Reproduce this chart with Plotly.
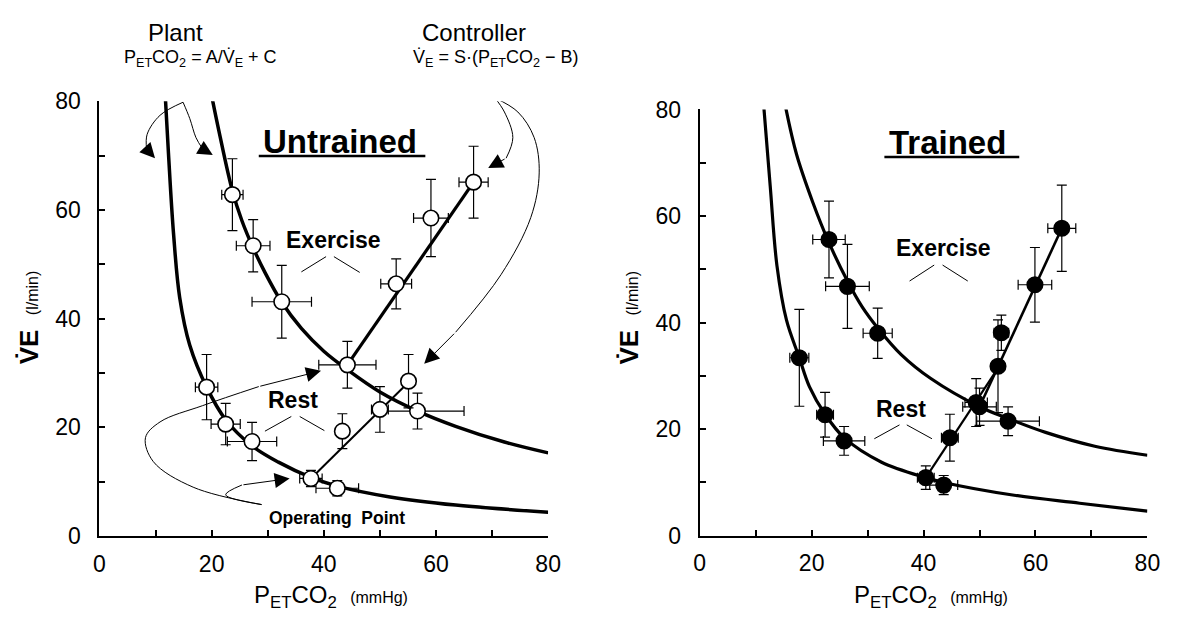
import plotly.graph_objects as go

# ---------------- data ----------------
# Untrained – plant (hyperbola) curves
U_ex_curve_x = [19.9, 21.3, 23.7, 25.4, 27.4, 29.5, 32.5, 36.0, 40.0, 44.2, 50.0, 56.7, 63.5, 72.2, 80.0]
U_ex_curve_y = [81.5, 74.5, 63.5, 58.0, 53.0, 48.5, 43.0, 38.2, 34.0, 30.6, 26.5, 23.0, 20.2, 17.3, 15.3]
U_rest_curve_x = [11.7, 12.3, 13.2, 14.3, 16.1, 19.1, 22.5, 27.2, 31.9, 37.7, 42.4, 51.8, 63.5, 80.0]
U_rest_curve_y = [81.5, 70.4, 55.7, 43.9, 35.1, 27.4, 21.4, 16.6, 13.6, 10.8, 9.2, 7.2, 5.7, 4.4]
# Untrained – controller lines (start, end)
U_ex_ctrl_line_x = [44.2, 66.7]
U_ex_ctrl_line_y = [31.5, 65.1]
U_rest_ctrl_line_x = [37.7, 55.1]
U_rest_ctrl_line_y = [10.6, 28.3]
# Untrained – measured points
U_ex_plant_x = [23.7, 27.4, 32.5, 44.2, 56.7]
U_ex_plant_y = [62.8, 53.4, 43.1, 31.5, 23.0]
U_ex_plant_xerr_p = [1.9, 3.0, 5.3, 5.1, 8.3]
U_ex_plant_xerr_m = [1.9, 3.0, 5.3, 5.1, 6.7]
U_ex_plant_yerr = [6.6, 4.8, 6.7, 4.3, 3.3]
U_ex_ctrl_x = [52.9, 59.1, 66.7]
U_ex_ctrl_y = [46.4, 58.5, 65.1]
U_ex_ctrl_xerr = [2.75, 3.1, 2.6]
U_ex_ctrl_yerr = [4.6, 7.1, 6.6]
U_rest_plant_x = [19.1, 22.5, 27.2, 37.7, 42.4]
U_rest_plant_y = [27.4, 20.6, 17.4, 10.6, 8.8]
U_rest_plant_xerr = [2.0, 2.6, 4.4, 2.0, 3.8]
U_rest_plant_yerr = [6.0, 3.8, 3.5, 1.5, 1.4]
U_rest_ctrl_x = [43.3, 50.0, 55.1]
U_rest_ctrl_y = [19.3, 23.3, 28.5]
U_rest_ctrl_xerr = [1.0, 1.5, 1.0]
U_rest_ctrl_yerr = [3.2, 4.2, 4.9]

# Trained – plant curves
T_ex_curve_x = [15.2, 17.3, 20.2, 23.1, 26.4, 29.0, 31.8, 36.0, 41.3, 50.0, 55.1, 61.8, 70.6, 80.0]
T_ex_curve_y = [81.2, 71.6, 62.6, 55.0, 47.8, 43.0, 39.0, 34.0, 29.5, 24.2, 22.0, 19.4, 16.8, 15.1]
T_rest_curve_x = [11.4, 12.6, 13.8, 15.5, 17.8, 19.6, 22.4, 25.8, 32.5, 40.4, 43.6, 56.2, 67.9, 80.0]
T_rest_curve_y = [81.2, 65.6, 50.7, 40.5, 33.4, 28.0, 22.8, 18.4, 13.8, 10.9, 10.0, 7.6, 6.1, 4.6]
T_ex_ctrl_line_x = [50.0, 64.7]
T_ex_ctrl_line_y = [24.2, 57.7]
T_rest_ctrl_line_x = [40.4, 53.5]
T_rest_ctrl_line_y = [10.9, 31.8]
# Trained – measured points
T_ex_plant_x = [23.1, 26.4, 31.8, 50.0, 55.1]
T_ex_plant_y = [55.6, 46.8, 38.0, 24.2, 21.5]
T_ex_plant_xerr = [2.9, 3.9, 2.6, 3.0, 5.6]
T_ex_plant_yerr = [7.2, 7.9, 4.7, 3.5, 2.7]
T_ex_ctrl_x = [53.9, 59.9, 64.7]
T_ex_ctrl_y = [38.1, 47.1, 57.7]
T_ex_ctrl_xerr = [1.3, 3.0, 2.5]
T_ex_ctrl_yerr = [3.3, 7.0, 8.1]
T_rest_plant_x = [17.8, 22.4, 25.8, 40.4, 43.6]
T_rest_plant_y = [33.4, 22.7, 17.8, 10.9, 9.5]
T_rest_plant_xerr = [1.7, 1.5, 3.7, 1.5, 2.5]
T_rest_plant_yerr = [9.1, 4.2, 2.7, 2.2, 1.8]
T_rest_ctrl_x = [44.7, 49.4, 53.3]
T_rest_ctrl_y = [18.4, 25.0, 31.8]
T_rest_ctrl_xerr = [1.5, 2.0, 1.0]
T_rest_ctrl_yerr = [4.4, 4.5, 8.7]

# Annotation arrow paths (left panel, data units): path points, then tip
arrow_plant_a = ([14.9, 10.8, 8.5, 8.4], [79.8, 77.4, 73.9, 71.2], (9.9, 69.5))
arrow_plant_b = ([14.9, 16.1, 17.2, 18.4], [79.8, 76.8, 73.3, 71.2], (20.2, 70.1))
arrow_ctrl_c = ([70.5, 72.2, 73.7, 72.5], [80.6, 78.0, 73.3, 69.5], (69.3, 67.7))
arrow_ctrl_d = ([70.5, 74.6, 77.5, 78.4, 76.9, 71.6, 63.5], [80.6, 78.0, 73.3, 66.8, 58.6, 48.1, 37.5], (57.9, 31.7))
arrow_op_e = ([28.9, 16.7, 9.6, 8.2, 10.8, 18.4, 28.4], [5.8, 9.0, 13.7, 18.1, 21.0, 24.0, 27.5], (39.5, 30.4))
arrow_op_f = ([28.9, 22.5, 25.4], [5.8, 7.6, 9.4], (33.9, 10.6))

# Label connector ticks
U_ex_conn = ([36.0, 40.4, None, 41.8, 46.4], [48.6, 51.4, None, 51.4, 48.5])
U_rest_conn = ([29.5, 34.2, None, 35.7, 40.1], [19.3, 22.0, None, 22.0, 19.4])
T_ex_conn = ([37.5, 41.9, None, 43.4, 47.9], [47.8, 50.8, None, 50.8, 47.8])
T_rest_conn = ([31.2, 35.7, None, 37.0, 41.5], [18.2, 20.8, None, 20.8, 18.2])

# ---------------- layout helpers (page pixel -> paper fraction) ----------------
W, H = 1186, 620


def fx(px):
    return px / W


def fy(py):
    return 1 - py / H


FONT = "Liberation Sans, Arial, Helvetica, sans-serif"
fig = go.Figure()


def line(x, y, w, xa, ya, shape="linear"):
    fig.add_trace(go.Scatter(x=x, y=y, mode="lines", xaxis=xa, yaxis=ya,
                             line=dict(color="black", width=w, shape=shape),
                             hoverinfo="skip", showlegend=False))


def pts(x, y, xerr, yerr, filled, xa, ya, xerr_m=None):
    ex = dict(type="data", array=xerr, color="black", thickness=1.2, width=5)
    if xerr_m is not None:
        ex["symmetric"] = False
        ex["arrayminus"] = xerr_m
    fig.add_trace(go.Scatter(
        x=x, y=y, mode="markers", xaxis=xa, yaxis=ya,
        marker=dict(size=15.5, symbol="circle", color="black" if filled else "white",
                    line=dict(color="black", width=1.6)),
        error_x=ex,
        error_y=dict(type="data", array=yerr, color="black", thickness=1.2, width=5),
        hoverinfo="skip", showlegend=False))


# Left panel (untrained)
line(U_ex_curve_x, U_ex_curve_y, 3.5, "x", "y", "spline")
line(U_rest_curve_x, U_rest_curve_y, 3.5, "x", "y", "spline")
line(U_ex_ctrl_line_x, U_ex_ctrl_line_y, 3.2, "x", "y")
line(U_rest_ctrl_line_x, U_rest_ctrl_line_y, 2.0, "x", "y")
line(*U_ex_conn, 1.0, "x", "y")
line(*U_rest_conn, 1.0, "x", "y")
pts(U_ex_plant_x, U_ex_plant_y, U_ex_plant_xerr_p, U_ex_plant_yerr, False, "x", "y", U_ex_plant_xerr_m)
pts(U_ex_ctrl_x, U_ex_ctrl_y, U_ex_ctrl_xerr, U_ex_ctrl_yerr, False, "x", "y")
pts(U_rest_plant_x, U_rest_plant_y, U_rest_plant_xerr, U_rest_plant_yerr, False, "x", "y")
pts(U_rest_ctrl_x, U_rest_ctrl_y, U_rest_ctrl_xerr, U_rest_ctrl_yerr, False, "x", "y")

# Right panel (trained)
line(T_ex_curve_x, T_ex_curve_y, 3.2, "x2", "y2", "spline")
line(T_rest_curve_x, T_rest_curve_y, 3.2, "x2", "y2", "spline")
line(T_ex_ctrl_line_x, T_ex_ctrl_line_y, 2.6, "x2", "y2")
line(T_rest_ctrl_line_x, T_rest_ctrl_line_y, 2.2, "x2", "y2")
line(*T_ex_conn, 1.0, "x2", "y2")
line(*T_rest_conn, 1.0, "x2", "y2")
pts(T_ex_plant_x, T_ex_plant_y, T_ex_plant_xerr, T_ex_plant_yerr, True, "x2", "y2")
pts(T_ex_ctrl_x, T_ex_ctrl_y, T_ex_ctrl_xerr, T_ex_ctrl_yerr, True, "x2", "y2")
pts(T_rest_plant_x, T_rest_plant_y, T_rest_plant_xerr, T_rest_plant_yerr, True, "x2", "y2")
pts(T_rest_ctrl_x, T_rest_ctrl_y, T_rest_ctrl_xerr, T_rest_ctrl_yerr, True, "x2", "y2")

annotations = []
# Arrows on the left panel
for px, py, tip in [arrow_plant_a, arrow_plant_b, arrow_ctrl_c, arrow_ctrl_d, arrow_op_e, arrow_op_f]:
    line(px, py, 1.0, "x", "y", "spline")
    annotations.append(dict(x=tip[0], y=tip[1], ax=px[-1], ay=py[-1], xref="x", yref="y",
                            axref="x", ayref="y", text="", showarrow=True, arrowhead=2,
                            arrowsize=3, arrowwidth=1, arrowcolor="black"))


def txt(x, y, t, size, xref="paper", yref="paper", angle=0):
    annotations.append(dict(x=x, y=y, xref=xref, yref=yref, text=t, showarrow=False,
                            xanchor="center", yanchor="middle", textangle=angle,
                            font=dict(size=size, family=FONT, color="black")))


# Panel labels
txt(42.9, 72.6, "<b>Untrained</b>", 33, "x", "y")
txt(44.2, 73.8, "<b>Trained</b>", 33, "x2", "y2")
txt(41.8, 54.5, "<b>Exercise</b>", 23, "x", "y")
txt(43.6, 54.0, "<b>Exercise</b>", 23, "x2", "y2")
txt(34.5, 25.0, "<b>Rest</b>", 23, "x", "y")
txt(36.0, 23.7, "<b>Rest</b>", 23, "x2", "y2")
txt(42.4, 3.4, "<b>Operating  Point</b>", 17.5, "x", "y")
# Top texts
txt(fx(172), fy(20), "Plant", 24)
txt(fx(198), fy(48), "P<sub>ET</sub>CO<sub>2</sub> = A/V\u0307<sub>E</sub> + C", 18)
txt(fx(476), fy(20), "Controller", 24)
txt(fx(498), fy(48), "V\u0307<sub>E</sub> = S\u00b7(P<sub>ET</sub>CO<sub>2</sub> \u2212 B)", 18)
# Axis titles
for xc in [330, 940]:
    txt(fx(xc), fy(609), "P<sub>ET</sub>CO<sub>2</sub>  <span style='font-size:16px'>(mmHg)</span>", 24)
for xc in [23, 633]:
    txt(fx(xc), fy(318), "<b>V\u0307E</b>  <span style='font-size:16px'>(l/min)</span>", 26, angle=-90)

shapes = [
    dict(type="line", xref="x", yref="y", x0=28.4, x1=58.1, y0=69.9, y1=69.9,
         line=dict(color="black", width=2.5)),
    dict(type="line", xref="x2", yref="y2", x0=33.0, x1=57.1, y0=71.1, y1=71.1,
         line=dict(color="black", width=2.5)),
]

axis_common = dict(range=[0, 80], showgrid=False, zeroline=False, showline=True,
                   linecolor="black", linewidth=2, ticks="inside", ticklen=6, tickwidth=1.5,
                   tickcolor="black", dtick=20, tick0=0,
                   minor=dict(dtick=10, ticks="inside", ticklen=6, tickwidth=1.5, tickcolor="black"),
                   tickfont=dict(size=23, family=FONT, color="black"))

fig.update_layout(
    width=W, height=H,
    margin=dict(l=0, r=0, t=0, b=0),
    paper_bgcolor="white", plot_bgcolor="white",
    font=dict(family=FONT, color="black"),
    showlegend=False,
    xaxis=dict(domain=[fx(95), fx(551)], anchor="y", ticklabelstandoff=6, **axis_common),
    yaxis=dict(domain=[fy(546), fy(92)], anchor="x", ticklabelstandoff=12, **axis_common),
    xaxis2=dict(domain=[fx(705), fx(1160)], anchor="y2", ticklabelstandoff=6, **axis_common),
    yaxis2=dict(domain=[fy(545.6), fy(100.7)], anchor="x2", ticklabelstandoff=12, **axis_common),
    annotations=annotations,
    shapes=shapes,
)

fig.write_html(
    "out.html",
    config={"displayModeBar": False},
    post_script="document.body.style.margin='0';document.body.style.overflow='hidden';"
                "document.documentElement.style.overflow='hidden';",
)
